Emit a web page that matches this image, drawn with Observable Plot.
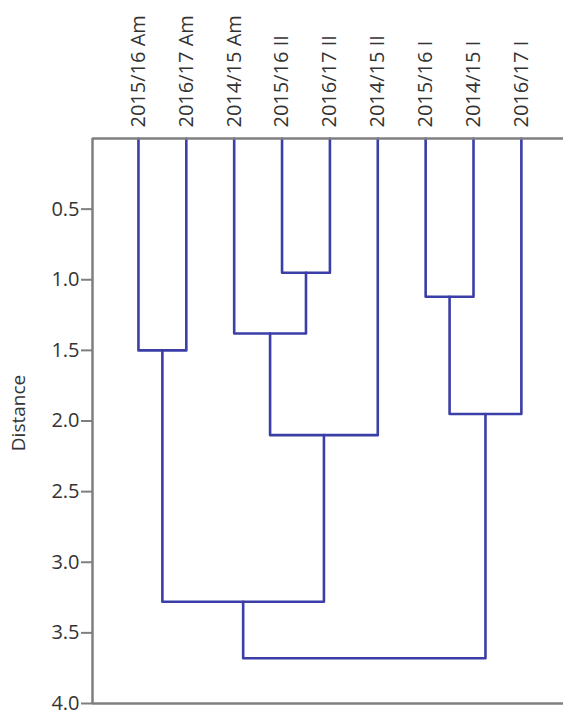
<!DOCTYPE html>
<html><head><meta charset="utf-8">
<script src="https://cdn.jsdelivr.net/npm/d3@7"></script>
<script src="https://cdn.jsdelivr.net/npm/@observablehq/plot@0.6"></script>
<style>body{margin:0;background:#fff}</style>
</head><body><div id="chart"></div>
<script>
const leaves = ["2015/16 Am","2016/17 Am","2014/15 Am","2015/16 II","2016/17 II","2014/15 II","2015/16 I","2014/15 I","2016/17 I"];
// merges: node ids (0..8 leaves, 9.. merged clusters in order)
const mergeLeft   = [3, 6, 2, 0, 10, 11, 12, 15];
const mergeRight  = [4, 7, 9, 1, 8, 5, 14, 13];
const mergeHeight = [0.95, 1.12, 1.38, 1.50, 1.95, 2.10, 3.28, 3.68];
const distanceTicks = [0.5, 1.0, 1.5, 2.0, 2.5, 3.0, 3.5, 4.0];

const nodeX = leaves.map((_, i) => i);
const nodeH = leaves.map(() => 0);
const links = [];
mergeHeight.forEach((h, k) => {
  const a = mergeLeft[k], b = mergeRight[k];
  links.push({k, x: nodeX[a], y: nodeH[a]}, {k, x: nodeX[a], y: h},
             {k, x: nodeX[b], y: h}, {k, x: nodeX[b], y: nodeH[b]});
  nodeX.push((nodeX[a] + nodeX[b]) / 2);
  nodeH.push(h);
});

const xMin = -0.96, xMax = 8.88;
const frameColor = "#7f7f7f", lineColor = "#3a3ea6";

const chart = Plot.plot({
  width: 563, height: 712,
  marginTop: 138, marginBottom: 9, marginLeft: 92, marginRight: 0,
  style: {fontFamily: "'Open Sans', sans-serif", fontSize: "20px", color: "#333", background: "#fff"},
  x: {domain: [xMin, xMax], axis: null},
  y: {domain: [0, 4], reverse: true, axis: null},
  marks: [
    Plot.axisX({anchor: "top", ticks: d3.range(leaves.length), tickFormat: i => leaves[i],
      tickRotate: -90, tickSize: 0, tickPadding: 11, label: null, fill: "#333"}),
    Plot.axisY({anchor: "left", ticks: distanceTicks, tickFormat: d => d.toFixed(1),
      tickSize: 11, tickPadding: 2, label: null, stroke: frameColor, strokeWidth: 2, fill: "#333"}),
    Plot.text(["Distance"], {frameAnchor: "left", textAnchor: "middle", rotate: -90, dx: -74, dy: -8, fill: "#333", fontSize: 19}),
    Plot.line(links, {x: "x", y: "y", z: "k", stroke: lineColor, strokeWidth: 2.6}),
    Plot.ruleY([0, 4], {stroke: frameColor, strokeWidth: 2.5}),
    Plot.ruleX([xMin], {stroke: frameColor, strokeWidth: 2.5})
  ]
});
document.getElementById("chart").appendChild(chart);
</script>
</body></html>
